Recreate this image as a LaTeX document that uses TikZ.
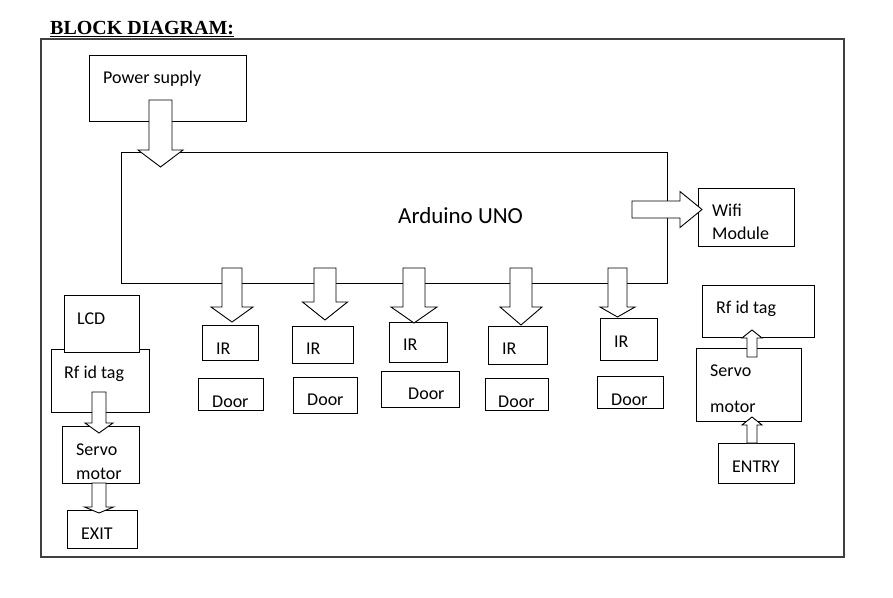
\documentclass[tikz,border=0pt]{standalone}
\usepackage{fontspec}
\setmainfont{Carlito}
\newfontfamily\titlefont{Liberation Serif}
\usetikzlibrary{calc}

\tikzset{
  block/.style={rectangle, draw, fill=white, line width=0.9pt, inner sep=0pt, outer sep=0pt, anchor=north west},
  lbl/.style={anchor=base west, inner sep=0pt, font=\fontsize{18}{21}\selectfont},
  blockarrow/.style={draw, fill=white, line width=0.9pt, line join=miter},
  frame/.style={draw=black!75, line width=1.3pt}
}

% hollow block arrow: from, to, shaft half width, head half width, head length
\newcommand{\fatarrow}[5]{%
  \coordinate (fa-base) at ($(#2)!#5!(#1)$);
  \draw[blockarrow] ($(#1)!#3!90:(#2)$) -- ($(fa-base)!#3!90:(#2)$) -- ($(fa-base)!#4!90:(#2)$) -- (#2)
    -- ($(fa-base)!#4!-90:(#2)$) -- ($(fa-base)!#3!-90:(#2)$) -- ($(#1)!#3!-90:(#2)$) -- cycle;
}

\begin{document}
\begin{tikzpicture}[x=1pt, y=-1pt]
  \useasboundingbox (0,0) rectangle (893,597);

  % Title and frame
  \node (title) [anchor=base west, inner sep=0pt, font=\titlefont\bfseries\fontsize{20}{24}\selectfont] at (50,34) {BLOCK DIAGRAM:};
  \draw[line width=1.8pt] ([yshift=-2.5pt]title.base west) -- ([yshift=-2.5pt]title.base east);
  \draw[frame] (41,39) rectangle (844,557);

  % Nodes
  \node (psu) [block, minimum width=157pt, minimum height=66pt] at (89,55) {};
  \node (uno) [block, minimum width=546pt, minimum height=131pt] at (121,152) {};
  \node (wifi) [block, minimum width=96pt, minimum height=58pt] at (698,188) {};

  \node (rf-exit) [block, minimum width=98pt, minimum height=63pt] at (51,349) {};
  \node (lcd) [block, minimum width=75pt, minimum height=57pt] at (64,295) {};
  \node (servo-exit) [block, minimum width=77pt, minimum height=57pt] at (62,426) {};
  \node (exit) [block, minimum width=70pt, minimum height=38pt] at (67,510) {};

  \node (rf-entry) [block, minimum width=112pt, minimum height=52pt] at (702,285) {};
  \node (servo-entry) [block, minimum width=105pt, minimum height=73pt] at (696,348) {};
  \node (entry) [block, minimum width=76pt, minimum height=40pt] at (718,443) {};

  \node (ir-1) [block, minimum width=56pt, minimum height=35pt] at (202,325) {};
  \node (ir-2) [block, minimum width=61pt, minimum height=37pt] at (292,326) {};
  \node (ir-3) [block, minimum width=58pt, minimum height=40pt] at (389,322) {};
  \node (ir-4) [block, minimum width=59pt, minimum height=38pt] at (488,326) {};
  \node (ir-5) [block, minimum width=57pt, minimum height=42pt] at (600,318) {};

  \node (door-1) [block, minimum width=65pt, minimum height=32pt] at (198,378) {};
  \node (door-2) [block, minimum width=64pt, minimum height=36pt] at (293,377) {};
  \node (door-3) [block, minimum width=78pt, minimum height=36pt] at (381,371) {};
  \node (door-4) [block, minimum width=63pt, minimum height=32pt] at (485,378) {};
  \node (door-5) [block, minimum width=66pt, minimum height=32pt] at (597,376) {};

  % Labels
  \node (psu-text) [lbl] at (103,83) {Power supply};
  \node (uno-text) [lbl, font=\fontsize{23}{28}\selectfont] at (398,223) {Arduino UNO};
  \node (wifi-text-1) [lbl] at (712,216) {Wifi};
  \node (wifi-text-2) [lbl] at (712,239) {Module};
  \node (lcd-text) [lbl] at (77,324) {LCD};
  \node (rf-exit-text) [lbl] at (64,378) {Rf id tag};
  \node (servo-exit-text-1) [lbl] at (76,455) {Servo};
  \node (servo-exit-text-2) [lbl] at (76,479) {motor};
  \node (exit-text) [lbl] at (81,539) {EXIT};
  \node (rf-entry-text) [lbl] at (716,313) {Rf id tag};
  \node (servo-entry-text-1) [lbl] at (710,376) {Servo};
  \node (servo-entry-text-2) [lbl] at (710,412) {motor};
  \node (entry-text) [lbl] at (732,472) {ENTRY};
  \node (ir-1-text) [lbl] at (216,354) {IR};
  \node (ir-2-text) [lbl] at (306,354) {IR};
  \node (ir-3-text) [lbl] at (403,350) {IR};
  \node (ir-4-text) [lbl] at (502,354) {IR};
  \node (ir-5-text) [lbl] at (614,347) {IR};
  \node (door-1-text) [lbl] at (212,407) {Door};
  \node (door-2-text) [lbl] at (307,405) {Door};
  \node (door-3-text) [lbl] at (408,399) {Door};
  \node (door-4-text) [lbl] at (498,407) {Door};
  \node (door-5-text) [lbl] at (611,405) {Door};

  % Arrow ends
  \coordinate (psu-out) at (160.5,100);
  \coordinate (uno-in) at (160.5,167);
  \coordinate (uno-out-wifi) at (632,209.5);
  \coordinate (wifi-in) at (702,209.5);
  \coordinate (uno-out-1) at (232,268);
  \coordinate (ir-1-in) at (232,322);
  \coordinate (uno-out-2) at (325,268);
  \coordinate (ir-2-in) at (325,320);
  \coordinate (uno-out-3) at (414,268);
  \coordinate (ir-3-in) at (414,323);
  \coordinate (uno-out-4) at (521,268);
  \coordinate (ir-4-in) at (521,325);
  \coordinate (uno-out-5) at (617.5,268);
  \coordinate (ir-5-in) at (617.5,317);
  \coordinate (rf-exit-out) at (99,392);
  \coordinate (servo-exit-in) at (99,433);
  \coordinate (servo-exit-out) at (99,483);
  \coordinate (exit-in) at (99,513);
  \coordinate (servo-entry-out) at (752,357);
  \coordinate (rf-entry-in) at (752,330);
  \coordinate (entry-out) at (752,443);
  \coordinate (servo-entry-in) at (752,417);

  % Arrows
  \fatarrow{psu-out}{uno-in}{11.5pt}{22.5pt}{17pt}
  \fatarrow{uno-out-wifi}{wifi-in}{8.5pt}{18pt}{22pt}
  \fatarrow{uno-out-1}{ir-1-in}{10pt}{21pt}{15pt}
  \fatarrow{uno-out-2}{ir-2-in}{11pt}{22.5pt}{18pt}
  \fatarrow{uno-out-3}{ir-3-in}{11pt}{23pt}{16pt}
  \fatarrow{uno-out-4}{ir-4-in}{11pt}{21pt}{18pt}
  \fatarrow{uno-out-5}{ir-5-in}{9.5pt}{17.5pt}{10pt}
  \fatarrow{rf-exit-out}{servo-exit-in}{7pt}{14pt}{10pt}
  \fatarrow{servo-exit-out}{exit-in}{7pt}{14.5pt}{6pt}
  \fatarrow{servo-entry-out}{rf-entry-in}{5pt}{10pt}{8pt}
  \fatarrow{entry-out}{servo-entry-in}{5pt}{10pt}{8pt}
\end{tikzpicture}
\end{document}
